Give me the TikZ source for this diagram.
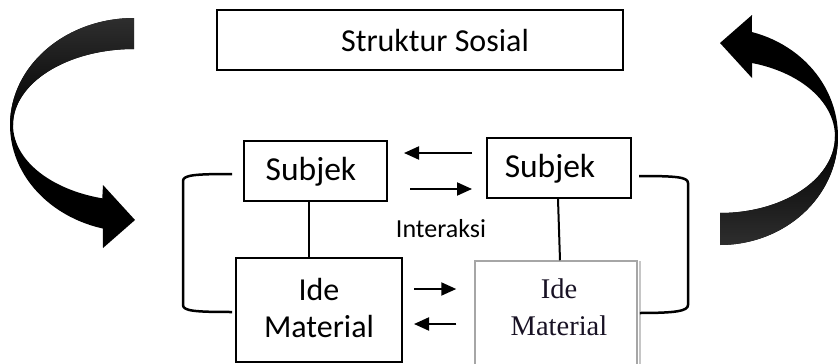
\documentclass[tikz,border=0pt]{standalone}
\usepackage{fontspec}
\setmainfont{Carlito}
\newfontfamily\serifide{Liberation Serif}
\usetikzlibrary{arrows.meta,calc}
\definecolor{ribbon}{HTML}{2E2E2E}
\definecolor{idetext}{HTML}{181224}
\begin{document}
\begin{tikzpicture}[x=1pt,y=-1pt,
  box/.style={draw,line width=2pt,inner sep=0pt},
  lbl/.style={anchor=base,inner sep=0pt,font=\fontsize{32}{38}\selectfont},
  serlbl/.style={anchor=base,inner sep=0pt,text=idetext,font=\serifide\fontsize{28.5}{34}\selectfont},
  arr/.style={line width=2pt,-{Triangle[length=15pt,width=13pt]}},
  brk/.style={line width=2.5pt},
  conn/.style={line width=2pt}]
\useasboundingbox (0,0) rectangle (839,364);

% left curved ribbon arrow
\fill[black] plot[domain=90:255.5,samples=60] ({134+124*cos(\x)},{125-107*sin(\x)})
  -- (103,248) -- (135,220) -- (103,185)
  -- plot[domain=254.8:90,samples=60] ({134+121*cos(\x)},{125-76*sin(\x)}) -- cycle;
\shade[top color=ribbon,bottom color=black] plot[domain=90:180,samples=40] ({134+124*cos(\x)},{125-107*sin(\x)})
  -- plot[domain=180:90,samples=40] ({134+121*cos(\x)},{125-76*sin(\x)}) -- cycle;

% right curved ribbon arrow
\fill[black] plot[domain=-90:74.3,samples=60] ({720+118*cos(\x)},{136.5-108.5*sin(\x)})
  -- (752,15) -- (720,43) -- (752,78)
  -- plot[domain=73.8:-90,samples=60] ({720+115*cos(\x)},{136.5-76.5*sin(\x)}) -- cycle;
\shade[top color=black,bottom color=ribbon] plot[domain=-90:0,samples=40] ({720+118*cos(\x)},{136.5-108.5*sin(\x)})
  -- plot[domain=0:-90,samples=40] ({720+115*cos(\x)},{136.5-76.5*sin(\x)}) -- cycle;

% boxes
\node[box,minimum width=406pt,minimum height=60pt] (struct) at (420,40) {};
\node[box,minimum width=143pt,minimum height=60pt] (subL) at (315.5,171) {};
\node[box,minimum width=144pt,minimum height=60pt] (subR) at (559,168) {};
\node[box,minimum width=166pt,minimum height=104pt] (ideL) at (319,310) {};
\node[draw=gray!70,line width=1.5pt,inner sep=0pt,minimum width=162pt,minimum height=106pt] (ideR) at (556,314) {};
\fill[gray!45] ($(ideR.north east)+(0.75,1)$) rectangle ($(ideR.south east)+(3.5,0)$);

% texts
\node[lbl] (structT) at (435,52) {Struktur Sosial};
\node[lbl,font=\fontsize{33.5}{40}\selectfont] (subLT) at (311,180) {Subjek};
\node[lbl,font=\fontsize{33.5}{40}\selectfont] (subRT) at (550,177) {Subjek};
\node[lbl,font=\fontsize{26}{31}\selectfont] (inter) at (441,237) {Interaksi};
\node[lbl] (ideLT1) at (319,300) {Ide};
\node[lbl] (ideLT2) at (319,337) {Material};
\node[serlbl] (ideRT1) at (559,298) {Ide};
\node[serlbl] (ideRT2) at (559,335) {Material};

% vertical connectors
\draw[conn] (subL.south -| 309,0) -- (ideL.north -| 309,0);
\draw[conn] (subR.south -| 558,0) -- (ideR.north -| 560,0);

% interaction arrows
\draw[arr,shorten <=14pt,shorten >=16pt] (subR.west |- 0,153) -- (subL.east |- 0,153);
\draw[arr,shorten <=22pt,shorten >=14pt] (subL.east |- 0,189) -- (subR.west |- 0,189);
\draw[arr,shorten <=11pt,shorten >=18pt] (ideL.east |- 0,289) -- (ideR.west |- 0,289);
\draw[arr,shorten <=18pt,shorten >=11pt] (ideR.west |- 0,324) -- (ideL.east |- 0,324);

% brackets
\draw[brk] ($(subL.west)+(-11,3)$) .. controls (195,174) and (183,175) .. (183,181)
  -- (183,305) .. controls (183,311) and (195,312) .. ($(ideL.west)+(-3,2)$);
\draw[brk] ($(subR.east)+(7,8)$) .. controls (676,176) and (688,177) .. (688,183)
  -- (688,305) .. controls (688,311) and (676,313) .. ($(ideR.east)+(2,-1)$);
\end{tikzpicture}
\end{document}
